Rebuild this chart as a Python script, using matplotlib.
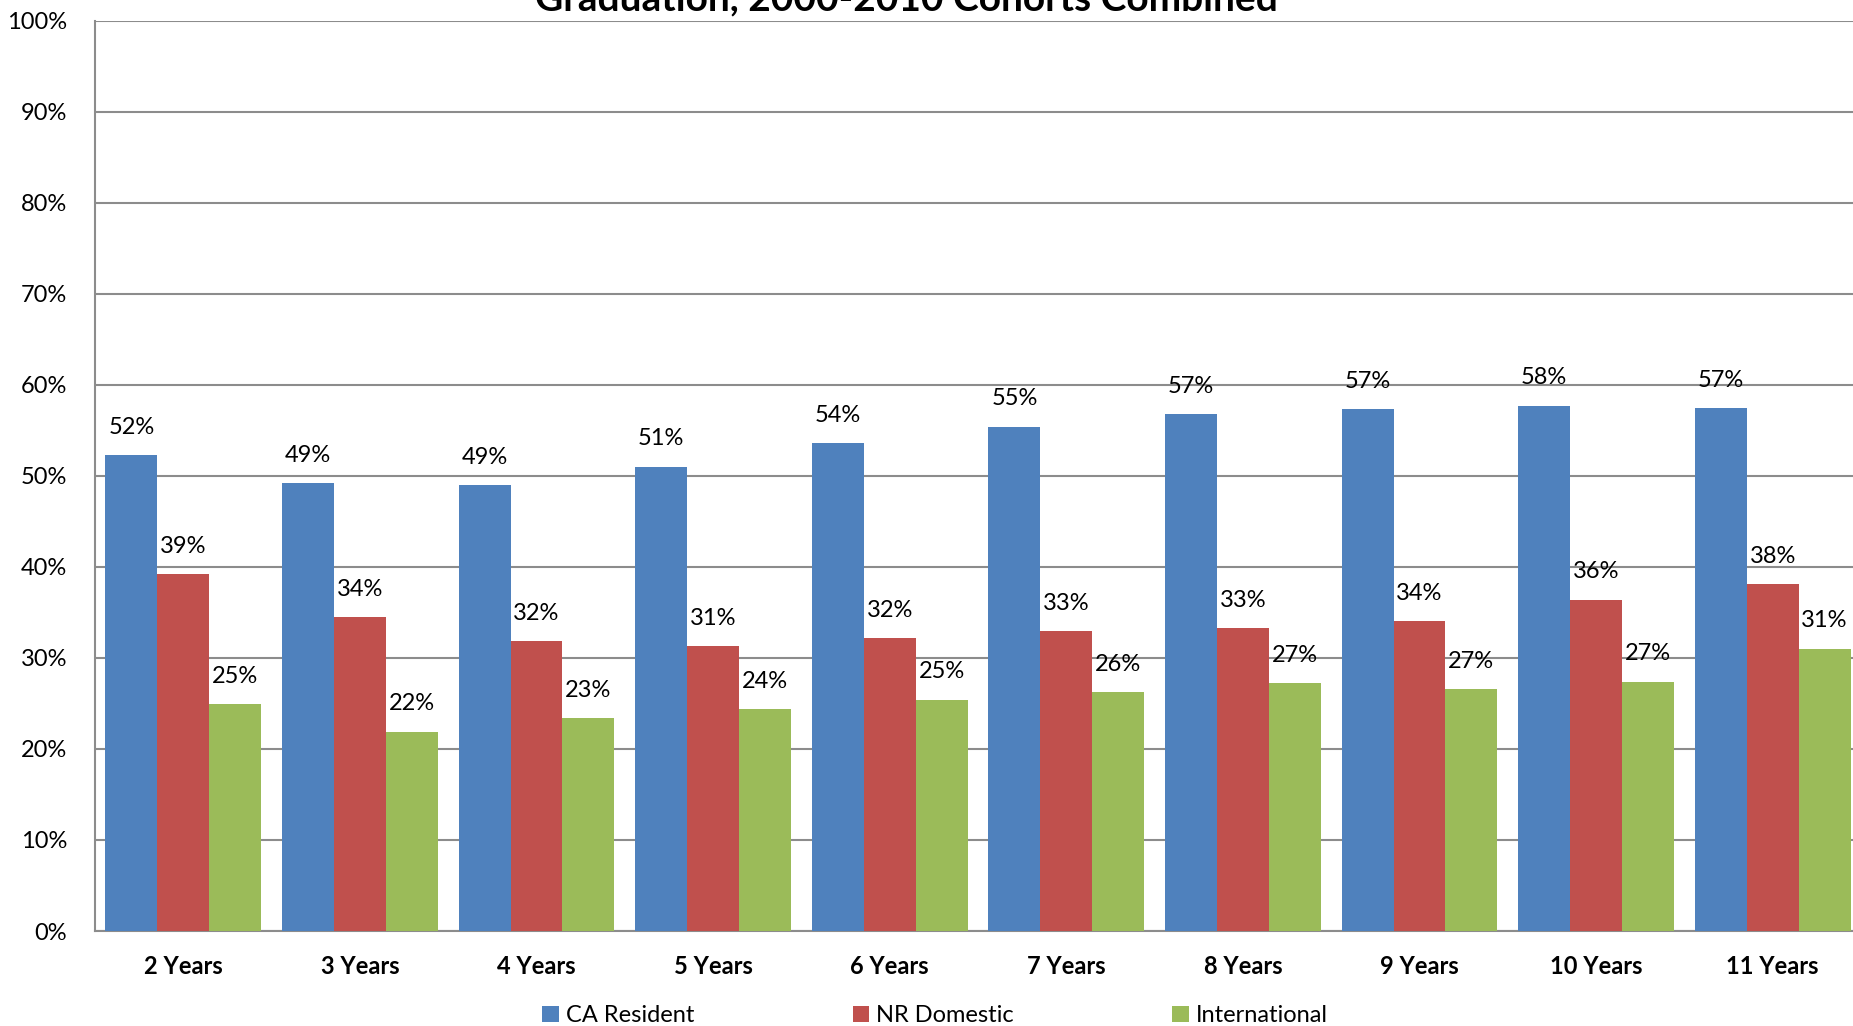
import matplotlib.pyplot as plt
import numpy as np
from matplotlib.ticker import PercentFormatter

plt.rcParams['font.family'] = ['Lato', 'DejaVu Sans']

categories = ['2 Years', '3 Years', '4 Years', '5 Years', '6 Years',
              '7 Years', '8 Years', '9 Years', '10 Years', '11 Years']
ca_resident = [52.3, 49.2, 49.0, 51.0, 53.6, 55.4, 56.8, 57.3, 57.7, 57.4]
nr_domestic = [39.2, 34.5, 31.8, 31.3, 32.2, 32.9, 33.3, 34.0, 36.4, 38.1]
international = [24.9, 21.9, 23.4, 24.4, 25.4, 26.2, 27.2, 26.6, 27.4, 31.0]
series_names = ['CA Resident', 'NR Domestic', 'International']
colors = ['#4F81BD', '#C0504D', '#9BBB59']

W, H = 1853, 1026
fig = plt.figure(figsize=(W / 100, H / 100), dpi=100)
# plot area runs a little past the right edge of the picture (cropped original)
left, right, top, bottom = 95, 1861, 20.5, 931
ax = fig.add_axes([left / W, 1 - bottom / H, (right - left) / W, (bottom - top) / H])

x = np.arange(len(categories))
bw = 0.294
for k, (vals, name, c) in enumerate(zip([ca_resident, nr_domestic, international],
                                        series_names, colors)):
    pos = x + (k - 1) * bw
    ax.bar(pos, vals, width=bw, color=c, label=name, zorder=3)
    for p, v in zip(pos, vals):
        ax.text(p, v + 1.9, '%d%%' % round(v), ha='center', va='bottom',
                fontsize=17, color='black', zorder=4)

ax.set_xlim(-0.5, len(categories) - 0.5)
ax.set_ylim(0, 100)
ax.set_yticks(np.arange(0, 101, 10))
ax.yaxis.set_major_formatter(PercentFormatter(decimals=0))
ax.set_xticks(x)
ax.set_xticklabels(categories, fontsize=17, fontweight='bold')
ax.tick_params(axis='y', labelsize=17, length=0, pad=20)
ax.tick_params(axis='x', length=0, pad=17)
ax.grid(axis='y', color='#8C8C8C', linewidth=1.5, zorder=0)
for s in ['top', 'right']:
    ax.spines[s].set_visible(False)
for s in ['left', 'bottom']:
    ax.spines[s].set_color('#8C8C8C')
    ax.spines[s].set_linewidth(1.5)

fig.text(906 / W, 1 - 10 / H, 'Graduation, 2000-2010 Cohorts Combined',
         ha='center', va='baseline', fontsize=28, fontweight='bold')

leg = fig.legend(loc='center', bbox_to_anchor=(935 / W, 1 - 1016 / H),
                 ncol=3, frameon=False, fontsize=17, handlelength=0.7,
                 handleheight=0.7, handletextpad=0.3, columnspacing=6.7)

fig.savefig('out.png', dpi=100)
